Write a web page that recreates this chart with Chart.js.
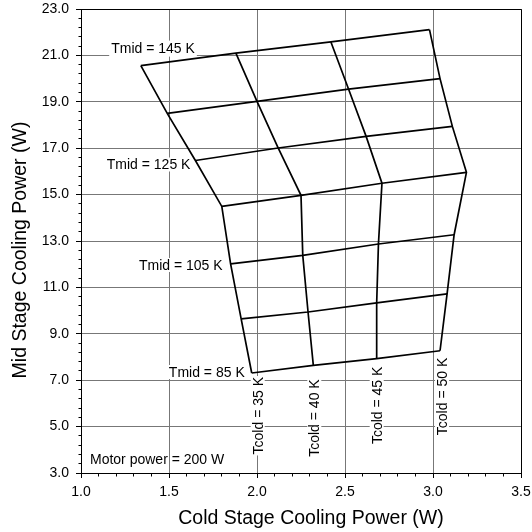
<!DOCTYPE html>
<html>
<head>
<meta charset="utf-8">
<script src="https://cdn.jsdelivr.net/npm/chart.js@4.4.1/dist/chart.umd.min.js"></script>
<style>
  html, body { margin: 0; padding: 0; background: #fff; }
</style>
</head>
<body>
<canvas id="grafico" width="532" height="532"></canvas>
<script>
// -------- DADOS --------
// linhas de Tmid (de cima para baixo) e colunas de Tcold
const tmidValues = [145, 135, 125, 115, 105, 95, 85];
const tmidLabelled = [145, 125, 105, 85];
const tcoldValues = [35, 40, 45, 50];

// potência do estágio frio (W), uma lista por Tcold, na ordem de tmidValues
const coldPowerT35 = [1.34, 1.49, 1.65, 1.80, 1.85, 1.91, 1.97];
const coldPowerT40 = [1.88, 2.00, 2.12, 2.25, 2.26, 2.29, 2.32];
const coldPowerT45 = [2.42, 2.52, 2.62, 2.71, 2.69, 2.68, 2.68];
const coldPowerT50 = [2.98, 3.04, 3.11, 3.19, 3.12, 3.08, 3.04];

// potência do estágio intermediário (W)
const midPowerT35 = [20.56, 18.50, 16.47, 14.49, 12.01, 9.64, 7.31];
const midPowerT40 = [21.10, 19.02, 17.01, 14.97, 12.38, 9.94, 7.64];
const midPowerT45 = [21.58, 19.55, 17.51, 15.49, 12.87, 10.33, 7.93];
const midPowerT50 = [22.11, 20.00, 17.94, 15.96, 13.27, 10.72, 8.27];

const xTitle = "Cold Stage Cooling Power (W)";
const yTitle = "Mid Stage Cooling Power (W)";
const motorText = "Motor power = 200 W";

const coldCols = [coldPowerT35, coldPowerT40, coldPowerT45, coldPowerT50];
const midCols = [midPowerT35, midPowerT40, midPowerT45, midPowerT50];

// -------- DATASETS --------
const FONT = "'Liberation Sans', Arial, sans-serif";
const estiloLinha = {
  showLine: true,
  borderColor: "#000",
  borderWidth: 1.7,
  pointRadius: 0,
  fill: false,
  tension: 0
};

const datasets = [];
tcoldValues.forEach((t, i) => {
  datasets.push({
    ...estiloLinha,
    label: "Tcold = " + t + " K",
    data: coldCols[i].map((x, r) => ({ x: x, y: midCols[i][r] }))
  });
});
tmidValues.forEach((t, r) => {
  datasets.push({
    ...estiloLinha,
    label: "Tmid = " + t + " K",
    data: tcoldValues.map((_, i) => ({ x: coldCols[i][r], y: midCols[i][r] }))
  });
});

// ajustes das etiquetas (px) em relação ao ponto de ancoragem
const ajusteTmid = {
  145: { dx: 54, dy: -18, padBottom: 2 },
  125: { dx: -5, dy: 4 },
  105: { dx: -8, dy: 1 },
  85: { dx: -7, dy: -1 }
};
const ajusteTcold = {
  35: { dx: 6, dy: 4 },
  40: { dx: 1, dy: 14 },
  45: { dx: 0, dy: 8 },
  50: { dx: 2, dy: 7 }
};

function crisp(v) {
  return Math.round(v + 0.5) - 0.5;
}

// calcula caixas e posições de todas as etiquetas
function etiquetas(chart) {
  const ctx = chart.ctx;
  const sx = chart.scales.x, sy = chart.scales.y;
  ctx.save();
  ctx.font = "14px " + FONT;
  const lista = [];
  tmidLabelled.forEach((t) => {
    const r = tmidValues.indexOf(t);
    const aj = ajusteTmid[t];
    const px = sx.getPixelForValue(coldPowerT35[r]);
    const py = sy.getPixelForValue(midPowerT35[r]);
    const txt = "Tmid = " + t + " K";
    const w = ctx.measureText(txt).width;
    const right = px + aj.dx;
    const cy = py + aj.dy;
    lista.push({
      txt, rot: false, x: right, y: cy + 5,
      box: [right - w - 2, cy - 7, w + 4, 14 + (aj.padBottom || 0)]
    });
  });
  tcoldValues.forEach((t, i) => {
    const last = coldCols[i].length - 1;
    const aj = ajusteTcold[t];
    const px = sx.getPixelForValue(coldCols[i][last]);
    const py = sy.getPixelForValue(midCols[i][last]);
    const txt = "Tcold = " + t + " K";
    const w = ctx.measureText(txt).width;
    const ox = px + aj.dx + 5;
    const top = py + aj.dy;
    lista.push({ txt, rot: true, x: ox, y: top, box: [ox - 12, top - 1, 14, w + 2] });
  });
  ctx.restore();
  return lista;
}

// -------- PLUGIN: moldura, ticks menores, textos --------
const decoracao = {
  id: "decoracao",
  beforeDatasetsDraw(chart) {
    // fundos brancos das etiquetas cobrem a grade, não as linhas
    const ctx = chart.ctx;
    ctx.save();
    ctx.fillStyle = "#fff";
    etiquetas(chart).forEach((e) => ctx.fillRect(...e.box));
    ctx.restore();
  },
  afterDatasetsDraw(chart) {
    const { ctx, chartArea: a, scales } = chart;
    const sx = scales.x, sy = scales.y;
    ctx.save();

    // moldura superior e direita
    ctx.strokeStyle = "#000";
    ctx.lineWidth = 1;
    ctx.beginPath();
    ctx.moveTo(crisp(a.left), crisp(a.top));
    ctx.lineTo(crisp(a.right), crisp(a.top));
    ctx.lineTo(crisp(a.right), crisp(a.bottom));
    ctx.stroke();

    // ticks menores
    ctx.beginPath();
    for (let i = 0; i <= 50; i++) {
      if (i % 5 === 0) continue;
      const py = crisp(sy.getPixelForValue(3 + i * 0.4));
      ctx.moveTo(crisp(a.left) - 3, py);
      ctx.lineTo(crisp(a.left), py);
    }
    for (let i = 0; i <= 25; i++) {
      if (i % 5 === 0) continue;
      const px = crisp(sx.getPixelForValue(1 + i * 0.1));
      ctx.moveTo(px, crisp(a.bottom));
      ctx.lineTo(px, crisp(a.bottom) + 3);
    }
    ctx.stroke();

    ctx.font = "14px " + FONT;
    ctx.textBaseline = "alphabetic";
    ctx.fillStyle = "#000";
    ctx.textAlign = "right";
    etiquetas(chart).forEach((e) => {
      if (!e.rot) {
        ctx.fillText(e.txt, e.x, e.y);
      } else {
        ctx.save();
        ctx.translate(e.x, e.y);
        ctx.rotate(-Math.PI / 2);
        ctx.fillText(e.txt, 0, 0);
        ctx.restore();
      }
    });

    // potência do motor
    ctx.textAlign = "left";
    ctx.fillText(motorText, a.left + 9, a.bottom - 9);

    // títulos dos eixos
    ctx.font = "19.5px " + FONT;
    ctx.textAlign = "center";
    ctx.fillText(xTitle, (a.left + a.right) / 2 + 10, 524);
    ctx.save();
    ctx.translate(26, (a.top + a.bottom) / 2 + 9);
    ctx.rotate(-Math.PI / 2);
    ctx.fillText(yTitle, 0, 0);
    ctx.restore();

    ctx.restore();
  }
};

// -------- CHART --------
const ctx = document.getElementById("grafico").getContext("2d");
const chart = new Chart(ctx, {
  type: "scatter",
  data: { datasets: datasets },
  options: {
    responsive: false,
    animation: false,
    devicePixelRatio: 1,
    layout: { padding: { top: 9, right: 11, left: 0, bottom: 0 } },
    plugins: {
      legend: { display: false },
      tooltip: { enabled: false }
    },
    scales: {
      x: {
        type: "linear",
        min: 1,
        max: 3.5,
        afterFit: (s) => {
          s.height = 59;
          s.paddingLeft = 0;
          s.paddingRight = 0;
        },
        grid: { color: "#777", tickColor: "#000", tickLength: 5, lineWidth: 1 },
        border: { color: "#000" },
        ticks: {
          stepSize: 0.5,
          padding: 6,
          color: "#000",
          font: { family: FONT, size: 14 },
          callback: (v) => Number(v).toFixed(1)
        }
      },
      y: {
        type: "linear",
        min: 3,
        max: 23,
        afterFit: (s) => {
          s.width = 81;
          s.paddingTop = 0;
          s.paddingBottom = 0;
        },
        grid: { color: "#777", tickColor: "#000", tickLength: 5, lineWidth: 1 },
        border: { color: "#000" },
        ticks: {
          stepSize: 2,
          padding: 7,
          color: "#000",
          font: { family: FONT, size: 14 },
          callback: (v) => Number(v).toFixed(1)
        }
      }
    }
  },
  plugins: [decoracao]
});
</script>
</body>
</html>
